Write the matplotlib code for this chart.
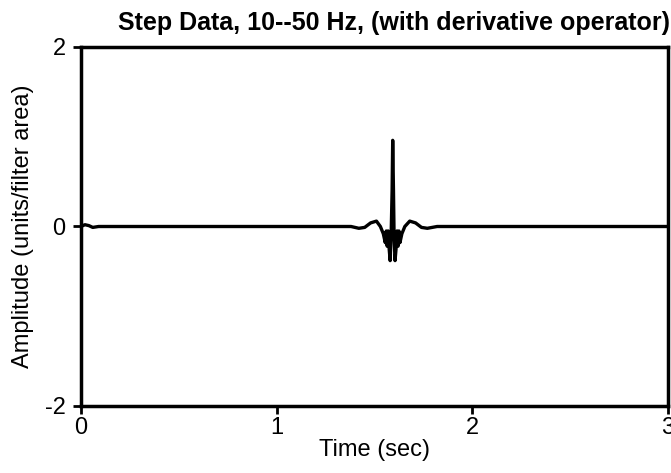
import matplotlib
matplotlib.use("Agg")
import matplotlib.pyplot as plt

# values
time_sec = [0.0, 0.02, 0.04, 0.06, 0.09, 0.14, 1.38, 1.42, 1.45, 1.48, 1.51, 1.53, 1.545,
            1.555, 1.56, 1.565, 1.57, 1.575, 1.58, 1.585, 1.59, 1.593, 1.597, 1.60, 1.605,
            1.61, 1.615, 1.62, 1.625, 1.63, 1.64, 1.655, 1.68, 1.71, 1.74, 1.77, 1.82, 3.0]
amplitude = [0.0, 0.02, 0.01, -0.01, 0.0, 0.0, 0.0, -0.02, -0.01, 0.04, 0.06, 0.0, -0.08,
             -0.18, -0.05, -0.22, -0.05, -0.25, -0.38, -0.1, 0.4, 0.96, 0.4, -0.1, -0.38,
             -0.25, -0.05, -0.22, -0.05, -0.18, -0.08, 0.0, 0.06, 0.04, -0.01, -0.02, 0.0, 0.0]

x_ticks = [0, 1, 2, 3]
y_ticks = [-2, 0, 2]

plt.rcParams['font.family'] = ['Liberation Sans', 'DejaVu Sans']
plt.rcParams['axes.unicode_minus'] = False

fig = plt.figure(figsize=(6.71, 4.73), dpi=100)
ax = fig.add_axes([81 / 671, 1 - 406 / 473, 587 / 671, 359 / 473])

ax.plot(time_sec, amplitude, color='black', linewidth=2.4)

ax.set_xlim(0, 3)
ax.set_ylim(-2, 2)
ax.set_xticks(x_ticks)
ax.set_yticks(y_ticks)
ax.tick_params(direction='out', length=6, width=2, labelsize=17)
ax.tick_params(axis='x', pad=2)
ax.tick_params(axis='y', pad=5)
for side in ax.spines.values():
    side.set_linewidth(2.5)

ax.set_title('Step Data, 10--50 Hz, (with derivative operator)', fontsize=18,
             fontweight='bold', pad=12, x=0.534)
ax.set_xlabel('Time (sec)', fontsize=17, labelpad=0)
ax.set_ylabel('Amplitude (units/filter area)', fontsize=17, labelpad=8)

fig.savefig('out.png', dpi=100)
